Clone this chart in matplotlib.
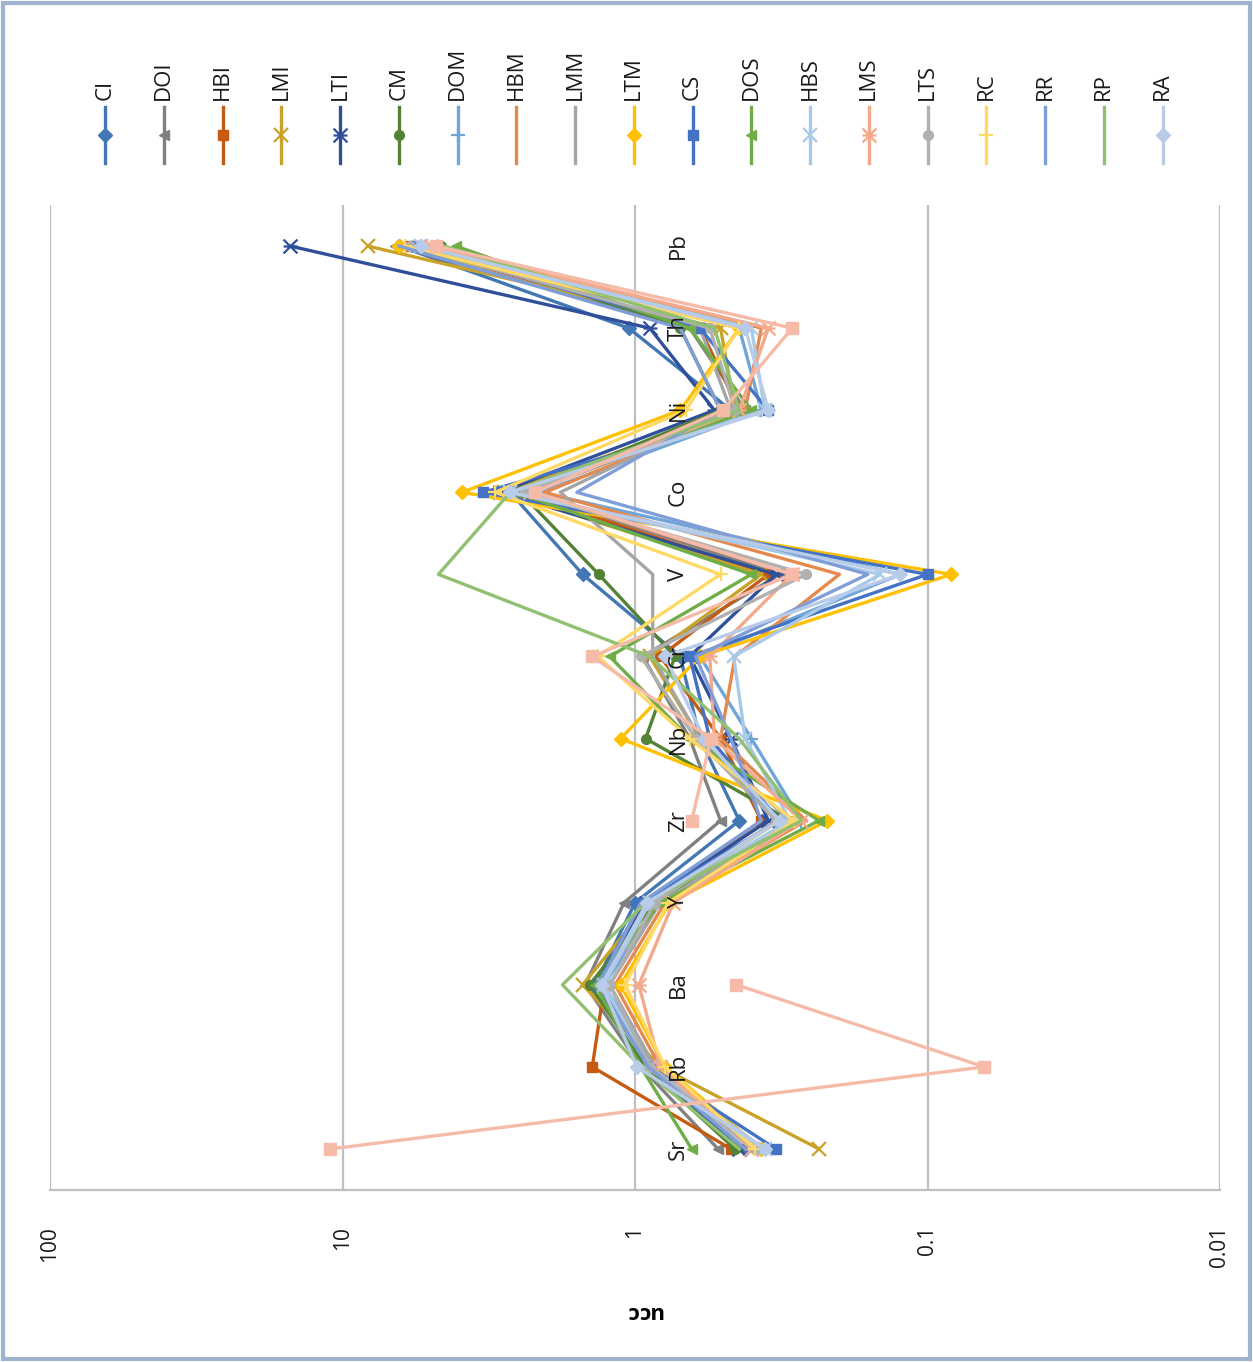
import matplotlib
matplotlib.use('Agg')
import matplotlib.pyplot as plt
import numpy as np
from matplotlib.path import Path
from matplotlib.lines import Line2D
from matplotlib.patches import Rectangle
from matplotlib.ticker import NullLocator

plt.rcParams['font.family'] = ['Open Sans', 'DejaVu Sans']

# elements, bottom -> top of the (rotated) chart
elements = ['Sr', 'Rb', 'Ba', 'Y', 'Zr', 'Nb', 'Cr', 'V', 'Co', 'Ni', 'Th', 'Pb']

# UCC-normalised values per sample group
CI  = [0.42, 0.89, 1.37, 1.00, 0.44, 0.60, 0.70, 1.51, 2.67, 0.47, 1.05, 6.4]
DOI = [0.52, 0.955, 1.48, 1.09, 0.51, 0.65, 0.94, 0.32, 2.29, 0.42, 0.65, 6.6]
HBI = [0.47, 1.40, 1.27, 0.89, 0.37, 0.51, 0.82, 0.35, 2.47, 0.44, 0.60, 5.9]
LMI = [0.235, 0.82, 1.51, 0.89, 0.32, 0.60, 0.89, 0.37, 2.8, 0.455, 0.51, 8.2]
LTI = [0.44, 0.89, 1.33, 0.92, 0.35, 0.47, 0.65, 0.33, 2.9, 0.535, 0.89, 15.1]
CM  = [0.455, 0.92, 1.43, 0.855, 0.295, 0.92, 0.73, 1.33, 2.47, 0.51, 0.70, 4.6]
DOM = [0.39, 0.855, 1.28, 0.82, 0.27, 0.40, 0.60, 0.124, 2.11, 0.37, 0.44, 5.4]
HBM = [0.37, 0.82, 1.17, 0.79, 0.26, 0.51, 0.455, 0.20, 2.03, 0.42, 0.37, 5.2]
LMM = [0.40, 0.855, 1.22, 0.82, 0.295, 0.60, 0.87, 0.87, 1.80, 0.47, 0.60, 5.65]
LTM = [0.37, 0.79, 1.12, 0.76, 0.22, 1.12, 0.60, 0.083, 3.9, 0.70, 0.44, 6.4]
CS  = [0.33, 0.89, 1.34, 0.955, 0.32, 0.555, 0.65, 0.10, 3.3, 0.35, 0.60, 5.65]
DOS = [0.64, 0.955, 1.37, 0.82, 0.235, 0.65, 1.22, 0.40, 2.57, 0.40, 0.65, 4.1]
HBS = [0.36, 0.89, 1.28, 0.89, 0.295, 0.42, 0.46, 0.145, 2.67, 0.36, 0.40, 5.4]
LMS = [0.40, 0.82, 0.97, 0.74, 0.27, 0.535, 0.555, 0.29, 2.29, 0.44, 0.35, 5.0]
LTS = [0.39, 0.89, 1.22, 0.855, 0.33, 0.62, 0.955, 0.26, 2.38, 0.455, 0.555, 5.9]
RC  = [0.39, 0.79, 1.08, 0.77, 0.286, 0.65, 1.34, 0.51, 3.0, 0.67, 0.44, 6.1]
RR  = [0.42, 0.90, 1.33, 0.955, 0.37, 0.47, 0.62, 0.16, 1.58, 0.51, 0.70, 6.4]
RP  = [0.44, 0.955, 1.77, 0.92, 0.27, 0.44, 0.89, 4.7, 2.67, 0.44, 0.535, 4.5]
RA  = [0.36, 0.985, 1.30, 0.91, 0.32, 0.58, 0.79, 0.124, 2.67, 0.35, 0.42, 5.4]
# 20th series, its legend entry is cut off in the original
S20 = [11.0, 0.064, 0.45, np.nan, 0.64, 0.55, 1.40, 0.29, 2.2, 0.50, 0.29, 4.8]

names = ['CI', 'DOI', 'HBI', 'LMI', 'LTI', 'CM', 'DOM', 'HBM', 'LMM', 'LTM',
         'CS', 'DOS', 'HBS', 'LMS', 'LTS', 'RC', 'RR', 'RP', 'RA']
series = [CI, DOI, HBI, LMI, LTI, CM, DOM, HBM, LMM, LTM,
          CS, DOS, HBS, LMS, LTS, RC, RR, RP, RA]

colors = ['#4377B4', '#808080', '#C55A11', '#C9A227', '#2F4F9A', '#548235',
          '#6FA5D8', '#E58A4E', '#A5A5A5', '#FFC000', '#4472C4', '#70AD47',
          '#A9C9E8', '#F4A98A', '#B0B0B0', '#FFD966', '#7F9ED8', '#92C072',
          '#B8CBE8']
s20_color = '#F6BBA8'

star = Path([(-1, -1), (1, 1), (-1, 1), (1, -1), (-1, 0), (1, 0)],
            [Path.MOVETO, Path.LINETO, Path.MOVETO, Path.LINETO, Path.MOVETO, Path.LINETO])
markers = ['D', '<', 's', 'x', star, 'o', '+', None, None, 'D',
           's', '<', 'x', star, 'o', '+', None, None, 'D']


def mstyle(m):
    if m in ('x', '+') or isinstance(m, Path):
        return dict(ms=10, mew=1.6)
    return dict(ms=7, mew=1)


W, H = 1253, 1362
fig = plt.figure(figsize=(W / 100, H / 100), dpi=100)
ax = fig.add_axes([50 / W, 1 - 1190 / H, 1170 / W, 985 / H])

ypos = np.arange(len(elements))
for vals, c, m, nm in zip(series, colors, markers, names):
    ax.plot(vals, ypos, color=c, lw=2.4, marker=m, mfc=c, mec=c, label=nm, **mstyle(m))
ax.plot(S20, ypos, color=s20_color, lw=2.4, marker='s', ms=8, mfc=s20_color, mec=s20_color)

ax.set_xscale('log')
ax.set_xlim(100, 0.01)
ax.set_ylim(-0.5, len(elements) - 0.5)
ax.set_xticks([100, 10, 1, 0.1, 0.01])
ax.set_xticklabels(['100', '10', '1', '0.1', '0.01'], rotation=90, fontsize=15,
                   color='#1a1a1a')
ax.xaxis.set_minor_locator(NullLocator())
ax.tick_params(axis='x', length=0, pad=26)
ax.set_yticks([])
ax.xaxis.grid(True, color='#BFBFBF', lw=1.6)
ax.set_axisbelow(True)
for s in ('left', 'top', 'right'):
    ax.spines[s].set_visible(False)
ax.spines['bottom'].set_color('#BFBFBF')
ax.spines['bottom'].set_linewidth(1.6)

# category labels sit just right of the value 1 line
for i, el in enumerate(elements):
    ax.text(0.71, i, el, rotation=90, ha='center', va='center', fontsize=16, color='#1a1a1a')

fig.text(644 / W, 1 - 1311 / H, 'ucc', rotation=180, ha='center', va='center',
         fontsize=16, fontweight='bold')

# legend, drawn rotated along the top
lx0, ldx = 105, 58.75
for i, (nm, c, m) in enumerate(zip(names, colors, markers)):
    x = (lx0 + i * ldx) / W
    fig.add_artist(Line2D([x, x], [1 - 107 / H, 1 - 163 / H], transform=fig.transFigure,
                          color=c, lw=2.4))
    if m is not None:
        fig.add_artist(Line2D([x], [1 - 135 / H], transform=fig.transFigure, color=c,
                              marker=m, mfc=c, mec=c, **mstyle(m)))
    fig.text(x, 1 - 100 / H, nm, rotation=90, ha='center', va='bottom', fontsize=16,
             color='#1a1a1a')

fig.add_artist(Rectangle((0.002, 0.002), 0.996, 0.996, transform=fig.transFigure,
                         fill=False, edgecolor='#9DB3CF', lw=3))

fig.savefig('out.png', dpi=100)
